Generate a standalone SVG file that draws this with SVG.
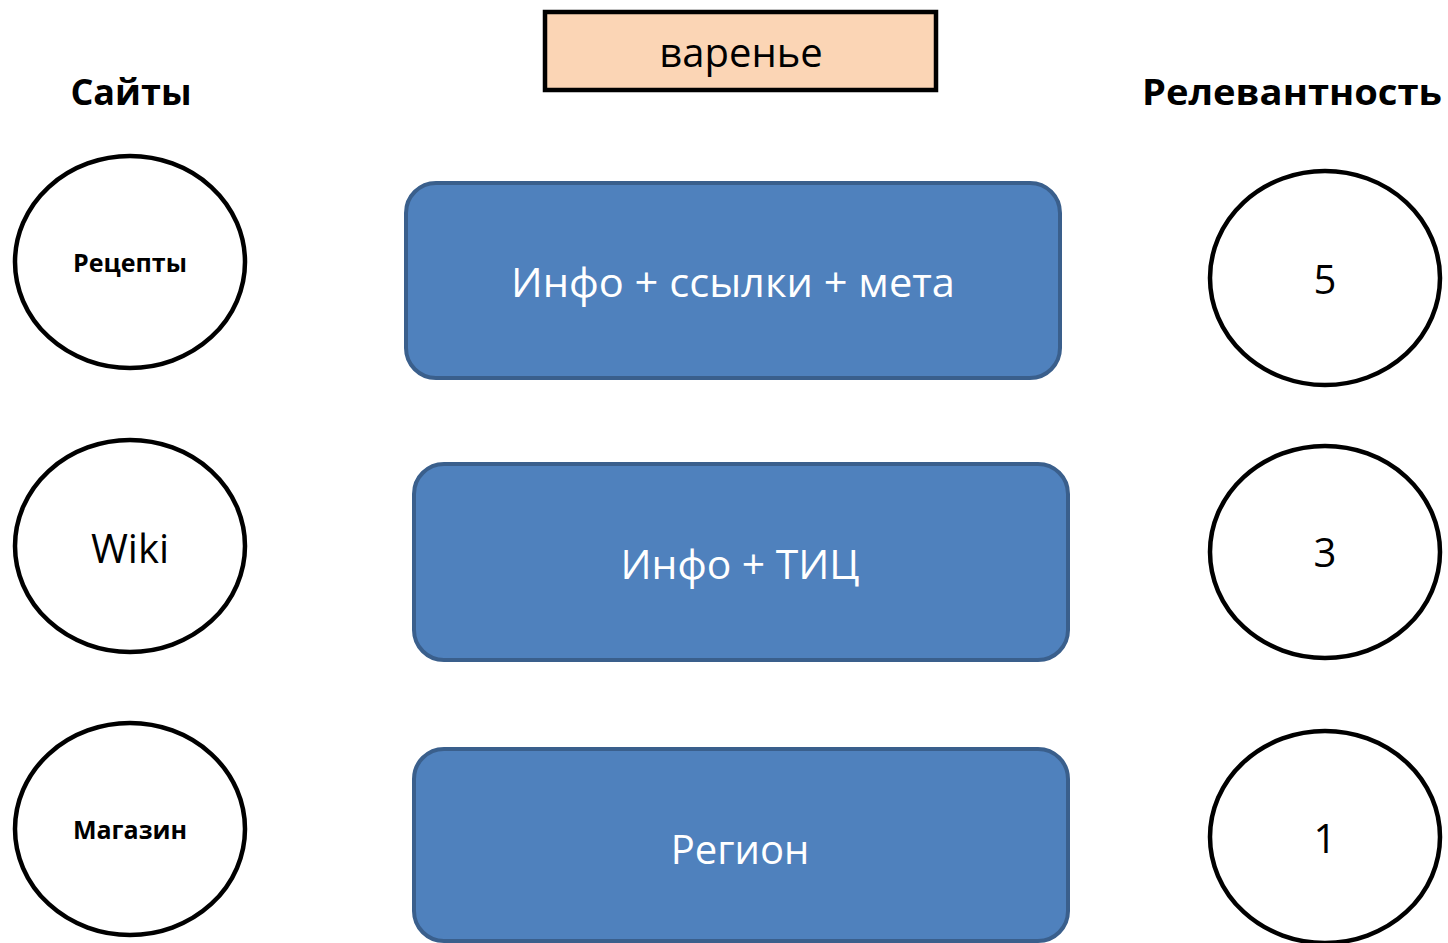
<svg xmlns="http://www.w3.org/2000/svg" width="1448" height="943" viewBox="0 0 1448 943">
<style>
.bg{fill:#fff}
.ell{fill:#fff;stroke:#000;stroke-width:4.5}
.blue{fill:#4F81BD;stroke:#3A5F8C;stroke-width:4}
.query{fill:#FBD5B5;stroke:#000;stroke-width:4.5}
.head{font-family:"Open Sans","Noto Sans",sans-serif;font-weight:bold;font-size:36px;fill:#000;text-anchor:middle}
.btxt{font-family:"Open Sans","Noto Sans",sans-serif;font-size:40px;fill:#fff;text-anchor:middle}
.small{font-family:"Open Sans","Noto Sans",sans-serif;font-weight:bold;font-size:25px;fill:#000;text-anchor:middle}
.num{font-family:"Open Sans","Noto Sans",sans-serif;font-size:40px;fill:#000;text-anchor:middle}
</style>
<rect class="bg" x="0" y="0" width="1448" height="943"/>
<g id="query">
<rect class="query" x="545" y="12" width="391" height="78"/>
<text class="num" x="741" y="67">варенье</text>
</g>
<g id="head-sites"><text class="head" x="131" y="105">Сайты</text></g>
<g id="head-rel"><text class="head" x="1292" y="105" textLength="300" lengthAdjust="spacingAndGlyphs">Релевантность</text></g>
<g id="site-recipes">
<ellipse class="ell" cx="130" cy="262" rx="115" ry="106"/>
<text class="small" x="130" y="272">Рецепты</text>
</g>
<g id="site-wiki">
<ellipse class="ell" cx="130" cy="546" rx="115" ry="106"/>
<text class="num" x="130" y="563" font-size="43">Wiki</text>
</g>
<g id="site-shop">
<ellipse class="ell" cx="130" cy="829" rx="115" ry="106"/>
<text class="small" x="130" y="839">Магазин</text>
</g>
<g id="factor-1">
<rect class="blue" x="406" y="183" width="654" height="195" rx="30"/>
<text class="btxt" x="733" y="297" textLength="444" lengthAdjust="spacingAndGlyphs">Инфо + ссылки + мета</text>
</g>
<g id="factor-2">
<rect class="blue" x="414" y="464" width="654" height="196" rx="30"/>
<text class="btxt" x="740" y="579" textLength="239" lengthAdjust="spacingAndGlyphs">Инфо + ТИЦ</text>
</g>
<g id="factor-3">
<rect class="blue" x="414" y="749" width="654" height="192" rx="30"/>
<text class="btxt" x="740" y="864">Регион</text>
</g>
<g id="rel-5">
<ellipse class="ell" cx="1325" cy="278" rx="115" ry="107"/>
<text class="num" x="1325" y="294">5</text>
</g>
<g id="rel-3">
<ellipse class="ell" cx="1325" cy="552" rx="115" ry="106"/>
<text class="num" x="1325" y="567">3</text>
</g>
<g id="rel-1">
<ellipse class="ell" cx="1325" cy="837" rx="115" ry="106"/>
<text class="num" x="1325" y="853">1</text>
</g>
<g id="connectors"></g>
</svg>
